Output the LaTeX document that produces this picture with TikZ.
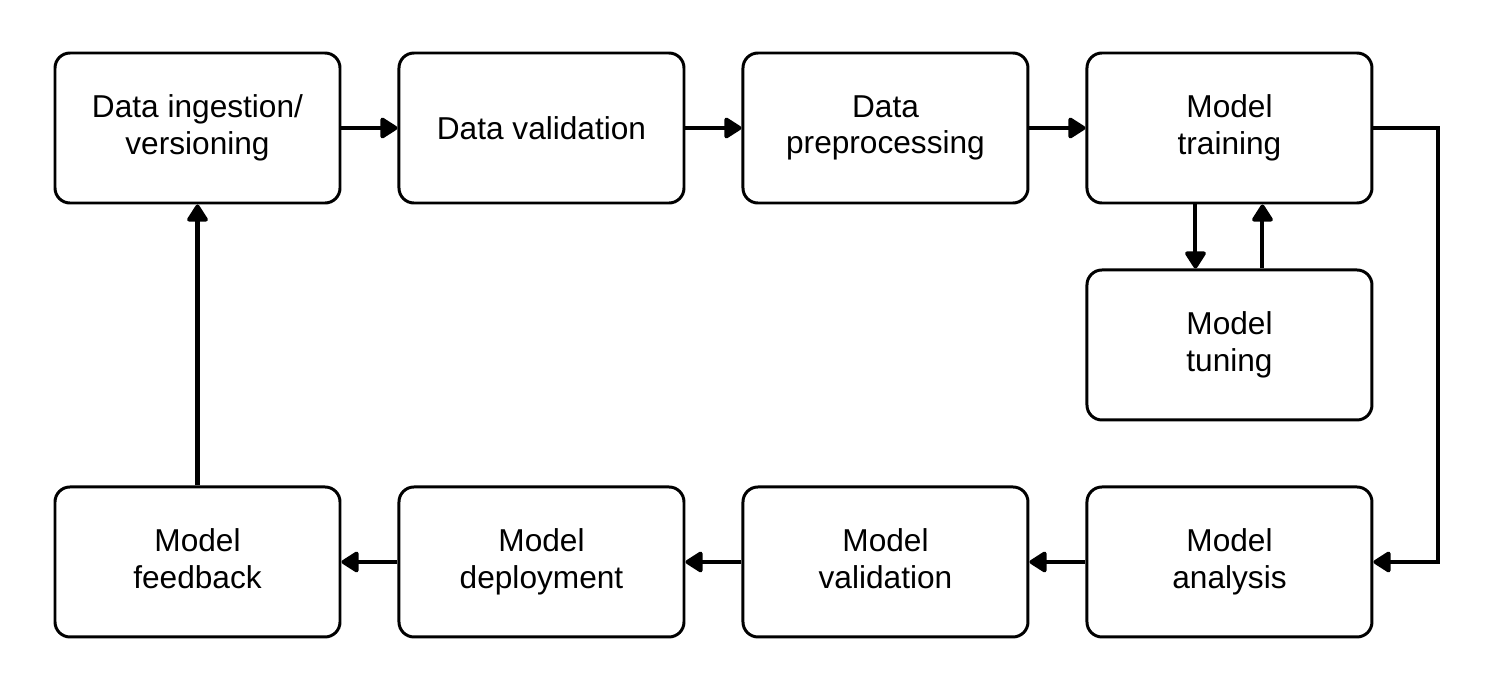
\documentclass[tikz,border=0pt]{standalone}
\usepackage{fontspec}
\setmainfont{Liberation Sans}
\usetikzlibrary{positioning,arrows.meta,calc}
\newcommand{\capstrut}{\vrule height 17pt depth 4.1pt width 0pt\relax}
\newcommand{\stagefont}{\fontsize{18}{20.8}\selectfont\lineskiplimit=-20pt\relax}
\tikzset{
stage/.style={draw=black,line width=1.7pt,rounded corners=0.3cm,minimum width=5.7cm,minimum height=3cm,align=center,
  font=\stagefont,execute at begin node=\capstrut,execute at end node=\capstrut},
flow/.style={line width=2.3pt,-{Triangle[round,length=0.38cm,width=0.46cm]}},
}
\begin{document}
\begin{tikzpicture}[node distance=1.28cm and 1.12cm]
\useasboundingbox (0,0) rectangle (29.76,-13.74);
\node[stage] (ingest) at (3.95,-2.56) {Data ingestion/\\versioning};
\node[stage,right=of ingest] (dval) {Data validation};
\node[stage,right=of dval] (prep) {Data\\preprocessing};
\node[stage,right=of prep] (train) {Model\\training};
\node[stage,below=of train] (tune) {Model\\tuning};
\node[stage,below=of tune] (analysis) {Model\\analysis};
\node[stage,left=of analysis] (mval) {Model\\validation};
\node[stage,left=of mval] (deploy) {Model\\deployment};
\node[stage,left=of deploy] (feedback) {Model\\feedback};
\coordinate (loop) at ($(train.east)+(1.3,0)$);
% top row
\draw[flow] (ingest) -- (dval);
\draw[flow] (dval) -- (prep);
\draw[flow] (prep) -- (train);
% tuning loop
\draw[flow] ([xshift=-0.68cm]train.south) -- ([xshift=-0.68cm]tune.north);
\draw[flow] ([xshift=0.66cm]tune.north) -- ([xshift=0.66cm]train.south);
% down the right side
\draw[flow] (train.east) -| (loop) |- (analysis.east);
% bottom row
\draw[flow] (analysis) -- (mval);
\draw[flow] (mval) -- (deploy);
\draw[flow] (deploy) -- (feedback);
\draw[flow] (feedback) -- (ingest);
\end{tikzpicture}
\end{document}
